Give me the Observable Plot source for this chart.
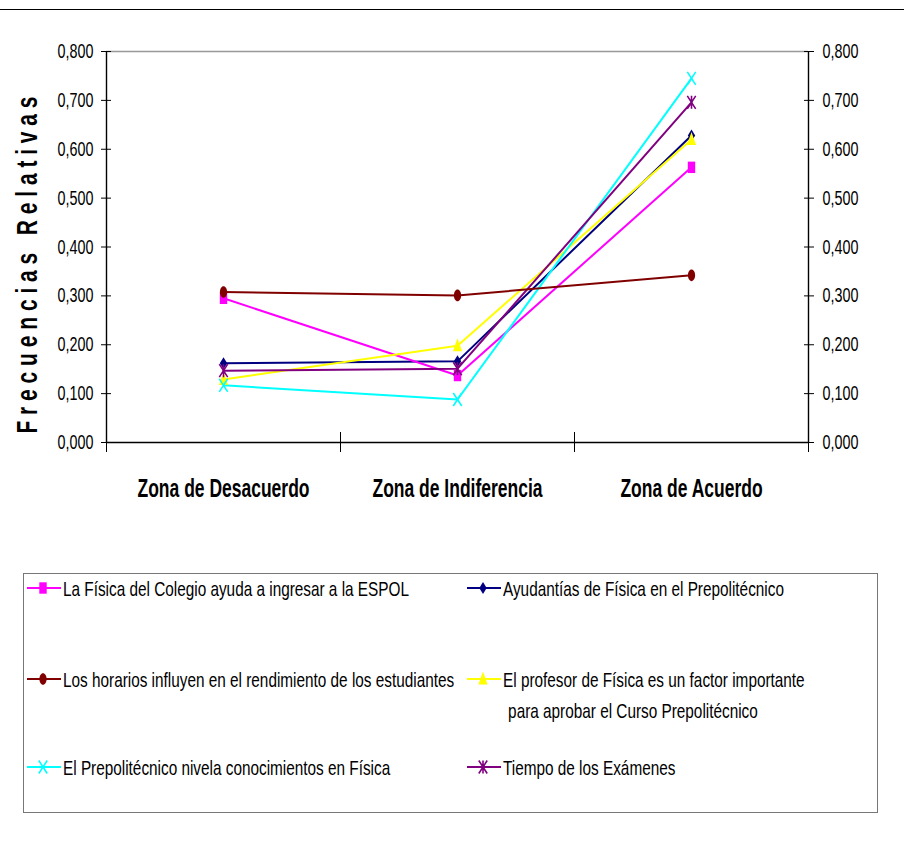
<!DOCTYPE html>
<html><head><meta charset="utf-8">
<script src="https://cdn.jsdelivr.net/npm/d3@7"></script>
<script src="https://cdn.jsdelivr.net/npm/@observablehq/plot@0.6"></script>
<style>
body{margin:0;background:#fff;font-family:"Liberation Sans",Arial,sans-serif;}
#wrap{position:relative;width:904px;height:850px;overflow:hidden;background:#fff}
#topline{position:absolute;left:0;top:9px;width:904px;border-top:1.5px solid #000}
#legend{position:absolute;left:23px;top:573px;width:855px;height:240px;border:1.5px solid #777;box-sizing:border-box}
.item{position:absolute;display:flex;align-items:flex-start;}
.item svg{flex:none;margin-top:5px}
.lbl{font-size:21px;line-height:31px;transform:scaleX(0.73);transform-origin:left center;white-space:nowrap;color:#000;margin-left:2px}
.lbl .l2{display:block;padding-left:7px}
</style></head>
<body>
<div id="wrap">
  <div id="chart"></div>
  <div id="topline"></div>
  <div id="legend"></div>
</div>
<script>
// ---- data ----
const categories = ["Zona de Desacuerdo", "Zona de Indiferencia", "Zona de Acuerdo"];
const seriesNames = [
  "Ayudantías de Física en el Prepolitécnico",
  "La Física del Colegio ayuda a ingresar a la ESPOL",
  "El profesor de Física es un factor importante para aprobar el Curso Prepolitécnico",
  "El Prepolitécnico nivela conocimientos en Física",
  "Tiempo de los Exámenes",
  "Los horarios influyen en el rendimiento de los estudiantes"
];
const ayudantias = [0.162, 0.166, 0.628];
const fisicaColegio = [0.295, 0.137, 0.563];
const profesor = [0.129, 0.198, 0.620];
const nivela = [0.117, 0.088, 0.745];
const tiempo = [0.147, 0.151, 0.696];
const horarios = [0.308, 0.301, 0.342];
const seriesValues = [ayudantias, fisicaColegio, profesor, nivela, tiempo, horarios];
const seriesColors = ["#000080", "#FF00FF", "#FFFF00", "#00FFFF", "#800080", "#800000"];
const seriesSymbols = ["diamond", "square", "triangle", "times", "asterisk", "ellipse"];
const yTicks = [0, 0.1, 0.2, 0.3, 0.4, 0.5, 0.6, 0.7, 0.8];
const yTitle = "F r e c u e n c i a s \u00a0 R e l a t i v a s";
// legend layout: [seriesIndex, column, row]
const legendOrder = [[1, 0, 0], [0, 1, 0], [5, 0, 1], [2, 1, 1], [3, 0, 2], [4, 1, 2]];

// ---- symbols (narrow, as in the reference) ----
const sym = {
  square: {draw(c) {c.moveTo(-3.7, -5.7); c.lineTo(3.7, -5.7); c.lineTo(3.7, 5.7); c.lineTo(-3.7, 5.7); c.closePath();}},
  ellipse: {draw(c) {const rx = 3.6, ry = 5.8, k = 0.5523;
    c.moveTo(rx, 0); c.bezierCurveTo(rx, ry * k, rx * k, ry, 0, ry); c.bezierCurveTo(-rx * k, ry, -rx, ry * k, -rx, 0);
    c.bezierCurveTo(-rx, -ry * k, -rx * k, -ry, 0, -ry); c.bezierCurveTo(rx * k, -ry, rx, -ry * k, rx, 0); c.closePath();}},
  diamond: {draw(c) {c.moveTo(0, -6); c.lineTo(3.7, 0); c.lineTo(0, 6); c.lineTo(-3.7, 0); c.closePath();}},
  triangle: {draw(c) {c.moveTo(0, -7.5); c.lineTo(4.6, 5.5); c.lineTo(-4.6, 5.5); c.closePath();}},
  times: {draw(c) {c.moveTo(-4.2, -6.5); c.lineTo(4.2, 6.5); c.moveTo(4.2, -6.5); c.lineTo(-4.2, 6.5);}},
  asterisk: {draw(c) {c.moveTo(-4.2, -6.5); c.lineTo(4.2, 6.5); c.moveTo(4.2, -6.5); c.lineTo(-4.2, 6.5); c.moveTo(0, -6.5); c.lineTo(0, 6.5);}}
};
const strokeOnly = new Set(["times", "asterisk"]);

const rows = seriesNames.flatMap((s, si) => seriesValues[si].map((v, i) => ({series: s, si, cat: categories[i], xi: i + 0.5, value: v})));
const fmt = d => d3.format(".3f")(d).replace(".", ",");

const dotMarks = seriesNames.map((s, si) => {
  const name = seriesSymbols[si];
  const so = strokeOnly.has(name);
  return Plot.dot(rows.filter(d => d.si === si), {
    x: "xi", y: "value", r: 5, symbol: sym[name],
    fill: so ? "none" : seriesColors[si],
    stroke: so ? seriesColors[si] : "none",
    strokeWidth: so ? 1.6 : 0
  });
});

const chart = Plot.plot({
  width: 904, height: 560,
  marginTop: 51, marginBottom: 118, marginLeft: 106, marginRight: 96,
  style: {fontFamily: "'Liberation Sans', Arial, sans-serif", background: "white", overflow: "visible", color: "#000"},
  x: {domain: [0, 3], axis: null},
  y: {domain: [0, 0.8], axis: null},
  color: {domain: seriesNames, range: seriesColors},
  marks: [
    Plot.ruleY([0.8], {stroke: "#999", strokeWidth: 1.5}),
    Plot.axisY(yTicks, {anchor: "left", tickSize: 10, dx: 5, tickPadding: 8, tickFormat: fmt, fontSize: 20.5, label: null, stroke: "#000"}),
    Plot.axisY(yTicks, {anchor: "right", tickSize: 10, dx: -5, tickPadding: 9, tickFormat: fmt, fontSize: 20.5, label: null, stroke: "#000"}),
    Plot.axisX([0, 1, 2, 3], {anchor: "bottom", tickSize: 20, dy: -10, tickFormat: () => "", label: null, stroke: "#000"}),
    Plot.axisX([0.5, 1.5, 2.5], {anchor: "bottom", tickSize: 0, tickPadding: 37, tickFormat: d => categories[Math.floor(d)], fontSize: 25, fontWeight: "bold", label: null}),
    Plot.ruleX([0, 3], {stroke: "#000", strokeWidth: 1.4}),
    Plot.ruleY([0], {stroke: "#000", strokeWidth: 1.4}),
    Plot.line(rows, {x: "xi", y: "value", z: "series", stroke: "series", strokeWidth: 2}),
    ...dotMarks,
    Plot.text([yTitle], {text: d => d, frameAnchor: "left", textAnchor: "middle", dx: -79, dy: 18, rotate: -90, fontSize: 30, fontWeight: "bold"})
  ]
});

// horizontally condense the text, as in the reference
chart.querySelectorAll("text").forEach(t => {
  const tr = t.getAttribute("transform");
  if (tr) t.setAttribute("transform", tr + " scale(0.7,1)");
  else {
    const x = +t.getAttribute("x") || 0;
    t.setAttribute("transform", `translate(${x},0) scale(0.7,1) translate(${-x},0)`);
  }
});
document.getElementById("chart").appendChild(chart);

// ---- legend ----
const legend = document.getElementById("legend");
const colX = [2.5, 442.5];
const rowY = [-1, 90, 178];
legendOrder.forEach(([si, col, row]) => {
  const item = document.createElement("div");
  item.className = "item";
  item.style.left = colX[col] + "px";
  item.style.top = rowY[row] + "px";
  const svg = d3.create("svg").attr("width", 34).attr("height", 20);
  svg.append("line").attr("x1", 0).attr("x2", 34).attr("y1", 10).attr("y2", 10).attr("stroke", seriesColors[si]).attr("stroke-width", 2);
  const p = d3.path();
  const name = seriesSymbols[si];
  sym[name].draw(p);
  svg.append("path").attr("d", p.toString()).attr("transform", "translate(16,10)")
    .attr("fill", strokeOnly.has(name) ? "none" : seriesColors[si])
    .attr("stroke", strokeOnly.has(name) ? seriesColors[si] : "none").attr("stroke-width", 1.6);
  item.appendChild(svg.node());
  const lbl = document.createElement("div");
  lbl.className = "lbl";
  if (si === 2) {
    lbl.innerHTML = "El profesor de Física es un factor importante<span class='l2'>para aprobar el Curso Prepolitécnico</span>";
  } else {
    lbl.textContent = seriesNames[si];
  }
  item.appendChild(lbl);
  legend.appendChild(item);
});
</script>
</body></html>
